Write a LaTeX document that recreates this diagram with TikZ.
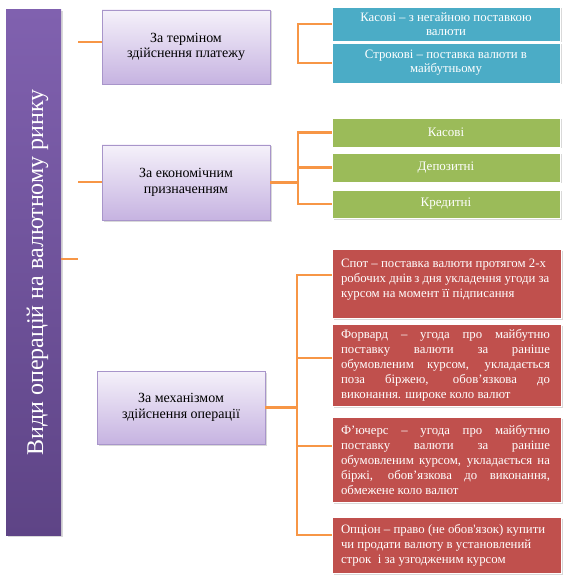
\documentclass[tikz,border=0pt]{standalone}
\usepackage{fontspec}
\setmainfont{Liberation Serif}
\usetikzlibrary{shadows}
\definecolor{barTop}{HTML}{8061AF}
\definecolor{barBot}{HTML}{5E4486}
\definecolor{catTop}{HTML}{F5F1FA}
\definecolor{catBot}{HTML}{C6B3E1}
\definecolor{catBorder}{HTML}{A895CA}
\definecolor{leafBlue}{HTML}{4BACC6}
\definecolor{leafGreen}{HTML}{9BBB59}
\definecolor{leafRed}{HTML}{C0504D}
\definecolor{connOrange}{HTML}{F79646}
\newcommand\jline[1]{\makebox[209pt][s]{\spaceskip=0.25em plus 1fil\relax #1}}
\begin{document}
\begin{tikzpicture}[x=1pt,y=-1pt,
  myshadow/.style={drop shadow={shadow xshift=1.5pt,shadow yshift=-1.5pt,opacity=0.3}},
  bar/.style={rectangle, top color=barTop, bottom color=barBot, draw=none,
    minimum width=55pt, minimum height=525pt, inner sep=0pt, text=white,
    font=\fontsize{24}{28}\selectfont, myshadow},
  cat/.style={rectangle, top color=catTop, bottom color=catBot, draw=catBorder,
    line width=0.8pt, minimum width=168pt, align=flush center,
    font=\fontsize{14}{15.5}\selectfont, myshadow},
  leaf/.style={rectangle, draw=white, line width=0.8pt, minimum width=228pt,
    text=white, align=flush center, inner sep=0pt,
    font=\fontsize{12.8}{14}\selectfont, myshadow},
  blueleaf/.style={leaf, fill=leafBlue},
  greenleaf/.style={leaf, fill=leafGreen, font=\fontsize{13}{15}\selectfont},
  redleaf/.style={leaf, fill=leafRed, minimum width=229pt, text width=211pt,
    inner xsep=9pt, align=flush left, font=\fontsize{12.8}{15}\selectfont},
  conn/.style={draw=connOrange, line width=2.2pt}
]
\useasboundingbox (0,0) rectangle (567,585);

% root bar
\node[bar] (root) at (33.5,272.5) {\hspace*{8pt}\rotatebox{90}{Види операцій на валютному ринку}};

% categories
\node[cat, minimum height=74pt] (c1) at (186,47) {За терміном\\здійснення платежу};
\node[cat, minimum height=75pt] (c2) at (186,182.5) {За економічним\\призначенням};
\node[cat, minimum height=73pt] (c3) at (181,407.5) {За механізмом\\здійснення операції};

% blue leaves
\node[blueleaf, minimum height=34pt] (b1) at (446,24) {Касові – з негайною поставкою\\валюти};
\node[blueleaf, minimum height=40pt] (b2) at (446,63) {Строкові – поставка валюти в\\майбутньому};

% green leaves
\node[greenleaf, minimum height=29pt] (g1) at (446,132.5) {Касові};
\node[greenleaf, minimum height=29pt] (g2) at (446,167.5) {Депозитні};
\node[greenleaf, minimum height=28pt] (g3) at (446,204) {Кредитні};

% red leaves
\node[redleaf, minimum height=69pt] (r1) at (446.5,283.5)
  {Спот – поставка валюти протягом 2-х\\робочих днів\,з дня укладення угоди за\\курсом на момент її підписання\\[-4pt]\mbox{}};
\node[redleaf, minimum height=82pt] (r2) at (446.5,365)
  {\jline{Форвард – угода про майбутню}\\\jline{поставку валюти за раніше}\\\jline{обумовленим курсом, укладається}\\\jline{поза біржею, обов’язкова до}\\виконання. широке коло валют};
\node[redleaf, minimum height=85pt] (r3) at (446.5,459.5)
  {\jline{Ф’ючерс – угода про майбутню}\\\jline{поставку валюти за раніше}\\\jline{обумовленим курсом, укладається на}\\\jline{біржі, обов’язкова до виконання,}\\обмежене коло валют};
\node[redleaf, minimum height=56pt] (r4) at (446.5,545)
  {Опціон – право (не обов\textquotesingle язок) купити\\чи продати валюту в установлений\\строк\ \ і за узгодженим курсом};

% junction columns
\coordinate (j1) at (298,0);
\coordinate (j3) at (297,0);

% top bracket (blue)
\draw[conn] (b1.west) -- (b1.west -| j1) -- (b2.west -| j1) -- (b2.west);

% second group (green)
\draw[conn] (c2.east) -- (c2.east -| j1);
\draw[conn] (g1.west) -- (g1.west -| j1) -- (g3.west -| j1) -- (g3.west);
\draw[conn] (g2.west) -- (g2.west -| j1);

% third group (red)
\coordinate (r1p) at ([yshift=8.5pt]r1.west);
\coordinate (r2p) at ([yshift=7pt]r2.west);
\coordinate (r3p) at ([yshift=13.5pt]r3.west);
\coordinate (r4p) at ([yshift=10pt]r4.west);
\draw[conn] (c3.east) -- (c3.east -| j3);
\draw[conn] (r1p) -- (r1p -| j3) -- (r4p -| j3) -- (r4p);
\draw[conn] (r2p) -- (r2p -| j3);
\draw[conn] (r3p) -- (r3p -| j3);

% left stubs
\coordinate (s1) at (78,42);
\coordinate (s2) at (78,182);
\coordinate (s3) at (78,259);
\draw[conn] (s1) -- (s1 -| c1.west);
\draw[conn] (s2) -- (s2 -| c2.west);
\draw[conn] (root.east |- s3) -- (s3);
\end{tikzpicture}
\end{document}
